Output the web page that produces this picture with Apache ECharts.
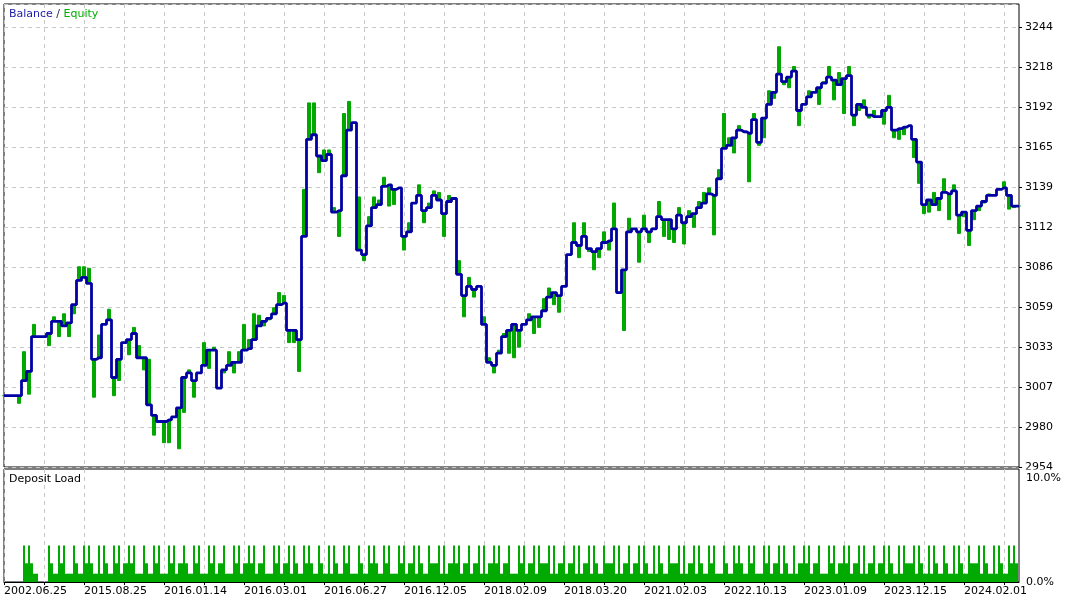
<!DOCTYPE html>
<html><head><meta charset="utf-8">
<script src="https://cdn.jsdelivr.net/npm/echarts@6/dist/echarts.min.js"></script>
<style>html,body{margin:0;padding:0;background:#fff}#c{width:1074px;height:602px}</style>
</head><body><div id="c"></div>
<script>
// Balance per trade step
const balance = [
3001,3001,3001,3001,3011,3017,3040,3040,3040,3042,
3050,3050,3047,3049,3061,3077,3079,3075,3025,3026,
3048,3051,3013,3025,3036,3038,3042,3026,3026,2995,
2988,2984,2984,2985,2987,2993,3013,3016,3011,3016,
3021,3031,3031,3006,3018,3021,3023,3023,3031,3032,
3038,3047,3050,3052,3055,3061,3062,3044,3044,3038,
3106,3170,3173,3159,3156,3160,3122,3123,3146,3176,
3181,3097,3094,3113,3125,3127,3139,3140,3137,3138,
3106,3109,3128,3133,3123,3125,3133,3130,3121,3129,
3131,3081,3067,3073,3071,3073,3048,3023,3021,3029,
3040,3044,3048,3044,3048,3051,3053,3053,3057,3066,
3069,3067,3073,3094,3102,3100,3106,3098,3096,3098,
3102,3103,3111,3069,3084,3109,3111,3109,3111,3109,
3111,3119,3117,3117,3111,3120,3115,3119,3121,3125,
3128,3134,3133,3144,3164,3166,3171,3176,3175,3174,
3183,3168,3184,3193,3201,3213,3208,3211,3215,3189,
3193,3198,3201,3204,3207,3211,3209,3206,3210,3212,
3186,3193,3191,3186,3185,3185,3189,3191,3176,3177,
3178,3179,3170,3155,3127,3130,3127,3131,3135,3134,
3136,3120,3122,3110,3123,3126,3129,3133,3133,3137,
3138,3133,3126,3126
];
// Equity per trade step
const equity = [
3001,3001,3001,2996,3030,3002,3048,3040,3040,3034,
3053,3040,3055,3040,3055,3086,3086,3085,3000,3041,
3048,3058,3001,3011,3036,3028,3046,3034,3018,3025,
2975,2984,2970,2970,2987,2966,2990,3018,3000,3016,
3036,3019,3033,3006,3016,3030,3016,3030,3048,3038,
3055,3054,3047,3051,3059,3069,3067,3036,3036,3017,
3137,3194,3194,3148,3163,3163,3125,3106,3187,3195,
3181,3132,3090,3119,3132,3130,3145,3126,3127,3138,
3097,3115,3128,3140,3115,3128,3136,3135,3106,3133,
3131,3090,3053,3079,3066,3073,3053,3026,3016,3031,
3042,3029,3026,3033,3048,3055,3042,3046,3065,3072,
3061,3056,3073,3094,3115,3092,3115,3096,3084,3092,
3109,3097,3128,3069,3044,3118,3111,3089,3120,3102,
3111,3129,3106,3104,3102,3125,3101,3123,3112,3129,
3135,3138,3107,3150,3187,3171,3161,3179,3175,3142,
3187,3166,3171,3202,3197,3231,3206,3204,3218,3179,
3193,3202,3201,3193,3208,3218,3196,3214,3187,3218,
3179,3189,3196,3184,3189,3185,3180,3199,3171,3170,
3173,3179,3158,3141,3121,3122,3135,3123,3144,3117,
3140,3108,3119,3100,3117,3123,3128,3134,3133,3137,
3142,3124,3125,3126
];
// Deposit load (%) - base level and peaks
const loadBody = [
0,0,0,0,1.8,1.8,0.8,0,0,1.8,
0.8,1.8,0.8,0.8,1.8,0.8,1.8,1.8,0.8,0.8,
1.8,0.8,1.8,0.8,1.8,1.8,0.8,0.8,1.8,0.8,
1.8,0.8,0.8,1.8,0.8,1.8,1.8,0.8,1.8,0.8,
0.8,1.8,0.8,1.8,0.8,0.8,1.8,0.8,1.8,1.8,
0.8,1.8,0.8,0.8,1.8,0.8,1.8,0.8,1.8,0.8,
1.8,1.8,0.8,1.8,0.8,0.8,1.8,0.8,1.8,0.8,
0.8,1.8,0.8,1.8,1.8,0.8,1.8,0.8,0.8,1.8,
0.8,1.8,0.8,1.8,0.8,1.8,1.8,0.8,0.8,1.8,
1.8,0.8,1.8,0.8,1.8,0.8,0.8,1.8,1.8,0.8,
1.8,0.8,0.8,1.8,0.8,1.8,0.8,1.8,1.8,0.8,
0.8,1.8,0.8,1.8,0.8,0.8,1.8,0.8,1.8,0.8,
1.8,1.8,0.8,0.8,1.8,0.8,1.8,0.8,1.8,0.8,
0.8,1.8,0.8,1.8,1.8,0.8,0.8,1.8,0.8,1.8,
0.8,1.8,0.8,0.8,1.8,0.8,1.8,1.8,0.8,1.8,
0.8,0.8,1.8,0.8,1.8,0.8,1.8,0.8,0.8,1.8,
1.8,0.8,1.8,0.8,0.8,1.8,0.8,1.8,1.8,0.8,
1.8,0.8,0.8,1.8,0.8,1.8,0.8,1.8,0.8,0.8,
1.8,1.8,0.8,1.8,0.8,0.8,1.8,0.8,1.8,0.8,
0.8,1.8,0.8,1.8,1.8,0.8,1.8,0.8,0.8,1.8,
0.8,1.8,1.8,0
];
const loadPeak = [
0,0,0,0,3.5,3.5,0,0,0,3.5,
0,3.5,3.5,0,3.5,0,3.5,3.5,0,3.5,
3.5,0,3.5,3.5,0,3.5,3.5,0,3.5,0,
3.5,3.5,0,3.5,3.5,0,3.5,0,3.5,3.5,
0,3.5,3.5,0,3.5,0,3.5,3.5,0,3.5,
3.5,0,3.5,0,3.5,3.5,0,3.5,3.5,0,
3.5,3.5,0,3.5,0,3.5,3.5,0,3.5,3.5,
0,3.5,0,3.5,3.5,0,3.5,3.5,0,3.5,
3.5,0,3.5,3.5,0,3.5,0,3.5,3.5,0,
3.5,3.5,0,3.5,0,3.5,3.5,0,3.5,3.5,
0,3.5,0,3.5,3.5,0,3.5,3.5,0,3.5,
3.5,0,3.5,0,3.5,3.5,0,3.5,3.5,0,
3.5,0,3.5,3.5,0,3.5,0,3.5,3.5,0,
3.5,3.5,0,3.5,0,3.5,3.5,0,3.5,3.5,
0,3.5,3.5,0,3.5,0,3.5,3.5,0,3.5,
3.5,0,3.5,3.5,0,3.5,3.5,0,3.5,0,
3.5,3.5,0,3.5,0,3.5,3.5,0,3.5,3.5,
0,3.5,3.5,0,3.5,0,3.5,3.5,0,3.5,
3.5,0,3.5,3.5,0,3.5,3.5,0,3.5,0,
3.5,3.5,0,3.5,0,3.5,3.5,0,3.5,3.5,
0,3.5,3.5,0
];
const xTickLabels = ['2002.06.25','2015.08.25','2016.01.14','2016.03.01','2016.06.27','2016.12.05','2018.02.09','2018.03.20','2021.02.03','2022.10.13','2023.01.09','2023.12.15','2024.02.01'];
const yTickLabels = ['2954','2980','3007','3033','3059','3086','3112','3139','3165','3192','3218','3244'];
const loadTickLabels = ['0.0%','10.0%'];
const categories = balance.map((_, i) => String(i));

// equity excursions drawn as vertical bars from the balance level to the equity level
const equityBars = balance.map((b, i) => [b, equity[i], Math.min(b, equity[i]), Math.max(b, equity[i])]);

const Y_MIN = 2954, Y_STEP = 26.3636, Y_MAX = 3259.2;
const FONT = 'DejaVu Sans';
const gridLine = {show: true, lineStyle: {color: '#c8c8c8', type: [4, 4], width: 1}};
const every8 = (i) => i % 8 === 0;
const GREEN = '#00a800';

const chart = echarts.init(document.getElementById('c'), null, {renderer: 'canvas'});
chart.setOption({
  animation: false,
  backgroundColor: '#fff',
  grid: [
    {left: 4, top: 4, width: 1015, height: 463, show: true, borderColor: '#000', borderWidth: 1, backgroundColor: 'transparent'},
    {left: 4, top: 469, width: 1015, height: 113, show: true, borderColor: '#000', borderWidth: 1, backgroundColor: 'transparent'}
  ],
  xAxis: [
    {type: 'category', gridIndex: 0, data: categories, boundaryGap: false,
     axisLine: {show: false}, axisTick: {show: false}, axisLabel: {show: false},
     splitLine: Object.assign({interval: every8}, gridLine)},
    {type: 'category', gridIndex: 1, data: categories, boundaryGap: false,
     axisLine: {show: true, lineStyle: {color: '#000', width: 1}},
     axisTick: {show: true, interval: every8, length: 3, lineStyle: {color: '#000'}},
     axisLabel: {interval: (i) => i % 16 === 0, formatter: (v) => xTickLabels[Number(v) / 16] || '',
                 align: 'left', margin: 4, fontFamily: FONT, fontSize: 11, color: '#000'},
     splitLine: Object.assign({interval: every8}, gridLine)}
  ],
  yAxis: [
    {type: 'value', gridIndex: 0, position: 'right', min: Y_MIN, max: Y_MAX, interval: Y_STEP,
     axisLine: {show: false}, axisTick: {show: true, length: 3, lineStyle: {color: '#000'}},
     axisLabel: {margin: 6, showMaxLabel: false, fontFamily: FONT, fontSize: 11, color: '#000',
                 formatter: (v) => yTickLabels[Math.round((v - Y_MIN) / Y_STEP)] || ''},
     splitLine: gridLine},
    {type: 'value', gridIndex: 1, position: 'right', min: 0, max: 10.87, interval: 10,
     axisLine: {show: false}, axisTick: {show: false}, splitLine: {show: false},
     axisLabel: {margin: 7, showMaxLabel: false, fontFamily: FONT, fontSize: 11, color: '#000',
                 formatter: (v) => loadTickLabels[Math.round(v / 10)] || ''}}
  ],
  series: [
    {name: 'Equity', type: 'candlestick', xAxisIndex: 0, yAxisIndex: 0, data: equityBars,
     barWidth: 3, itemStyle: {color: GREEN, color0: GREEN, borderColor: GREEN, borderColor0: GREEN, borderWidth: 1}, z: 2},
    {name: 'Balance', type: 'line', xAxisIndex: 0, yAxisIndex: 0, data: balance, step: 'middle',
     symbol: 'none', lineStyle: {color: '#0000a4', width: 2.8}, z: 3},
    {name: 'LoadBase', type: 'bar', xAxisIndex: 1, yAxisIndex: 1, data: loadBody, barWidth: 5, barGap: '-100%',
     itemStyle: {color: '#00aa00'}},
    {name: 'LoadPeak', type: 'bar', xAxisIndex: 1, yAxisIndex: 1, data: loadPeak, barWidth: 2, barGap: '-100%',
     itemStyle: {color: '#00aa00'}}
  ],
  graphic: [
    {type: 'text', left: 9, top: 9, z: 100, style: {
      text: '{b|Balance} {s|/} {e|Equity}', font: '11px "DejaVu Sans"',
      rich: {b: {fill: '#1c1ca8', font: '11px "DejaVu Sans"'}, s: {fill: '#202060', font: '11px "DejaVu Sans"'}, e: {fill: '#00b000', font: '11px "DejaVu Sans"'}}}},
    {type: 'text', left: 9, top: 474, z: 100, style: {text: 'Deposit Load', fill: '#000', font: '11px "DejaVu Sans"'}},
    {type: 'rect', z: 100, shape: {x: 1020, y: 469.5, width: 54, height: 2.5}, style: {fill: '#fff'}}
  ]
});
</script>
</body></html>
